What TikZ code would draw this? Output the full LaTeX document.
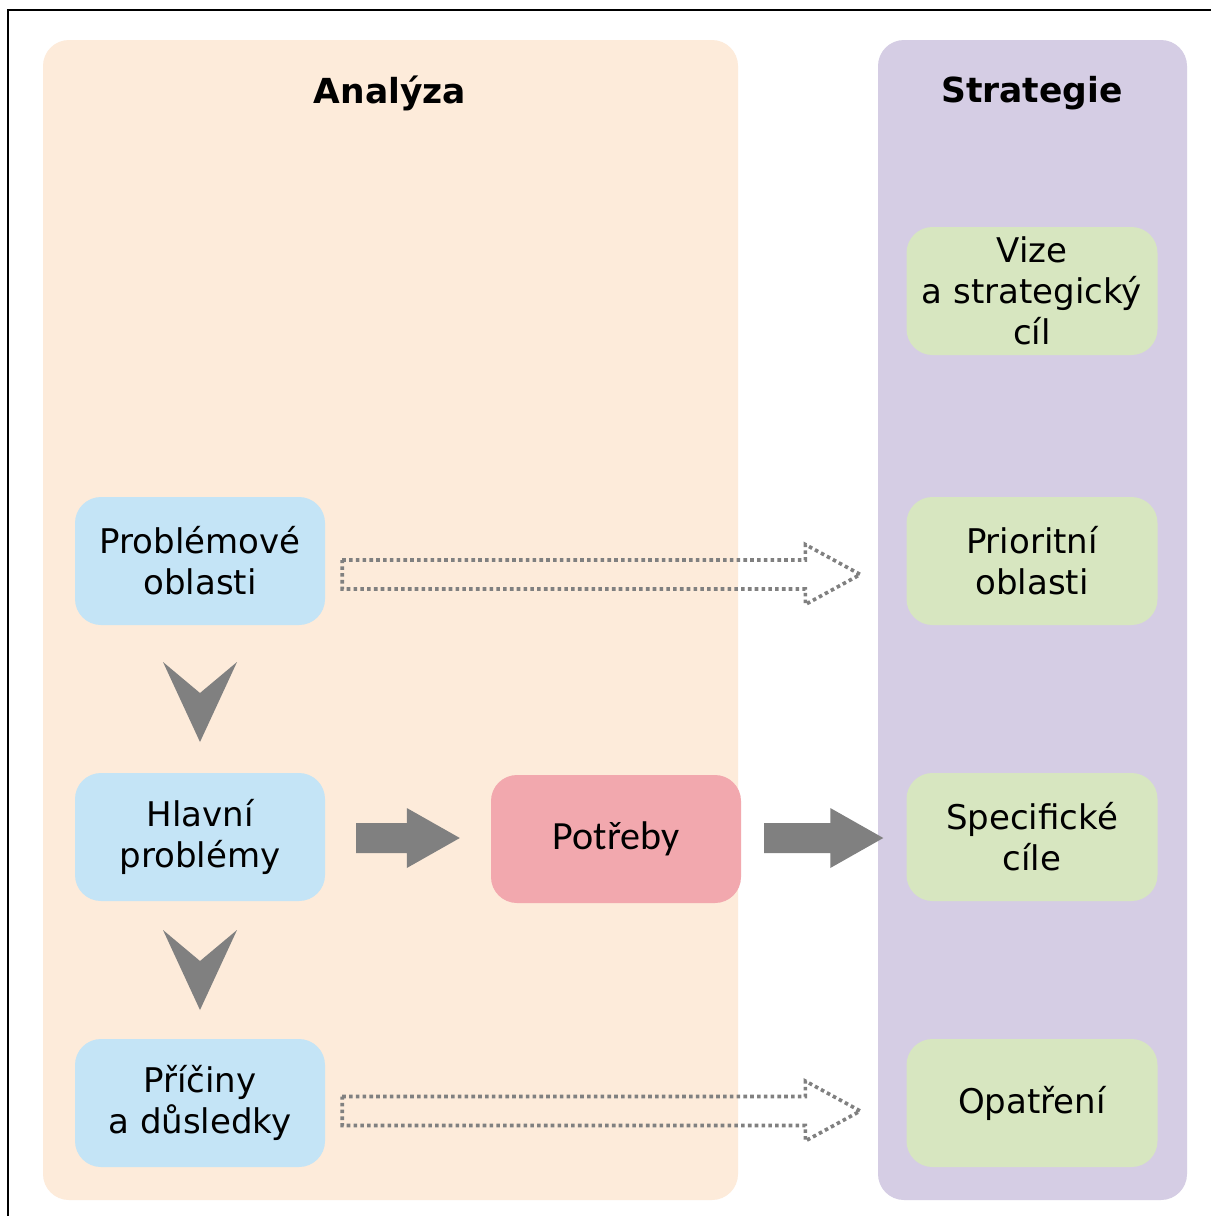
\documentclass[tikz,border=0pt]{standalone}
\usepackage{fontspec}
\setmainfont{DejaVu Sans}
\newfontfamily\calibri{Carlito}
\usetikzlibrary{calc}
\definecolor{peach}{RGB}{253,235,218}
\definecolor{lav}{RGB}{213,205,228}
\definecolor{bluebox}{RGB}{196,228,246}
\definecolor{greenbox}{RGB}{215,230,192}
\definecolor{pinkbox}{RGB}{242,168,174}
\definecolor{arrgray}{RGB}{128,128,128}
\tikzset{
  panel/.style={fill=#1, draw=none, rounded corners=26pt},
  box/.style={fill=#1, draw=none, rounded corners=26pt, minimum width=250pt, minimum height=128pt,
     align=center, inner sep=0pt, font=\fontsize{34}{41}\selectfont},
  title/.style={font=\fontsize{34.5}{40}\selectfont\bfseries},
  dotarrow/.style={draw=arrgray, line width=3.6pt, dash pattern=on 3.6pt off 3.2pt},
  solidarrow/.style={fill=arrgray, draw=none}
}
\begin{document}
\begin{tikzpicture}[x=1pt,y=-1pt]
\useasboundingbox (0,0) rectangle (1211,1216);
\fill[white] (0,0) rectangle (1211,1216);
\draw[line width=2pt] (8,1216) -- (8,10) -- (1211,10);
% panels
\fill[panel=peach] (43,40) rectangle (738,1200);
\fill[panel=lav] (878,40) rectangle (1187,1200);
\node[title] (ta) at (390,93) {Analýza};
\node[title] (ts) at (1032,93) {Strategie};
% boxes
\node[box=bluebox] (pa) at (200,561) {Problémové\\oblasti};
\node[box=bluebox] (hp) at (200,837) {Hlavní\\problémy};
\node[box=bluebox] (pd) at (200,1103) {Příčiny\\a důsledky};
\node[box=pinkbox, font=\calibri\fontsize{40}{48}\selectfont] (pot) at (616,839) {Potřeby};
\node[box=greenbox, minimum width=251pt] (vize) at (1032,291) {Vize\\a strategický\\cíl};
\node[box=greenbox, minimum width=251pt] (prio) at (1032,561) {Prioritní\\oblasti};
\node[box=greenbox, minimum width=251pt] (spec) at (1032,837) {Specifické\\cíle};
\node[box=greenbox, minimum width=251pt] (opat) at (1032,1103) {Opatření};
% chevrons
\coordinate (m1) at ($(pa.south)!0.5!(hp.north)$);
\fill[solidarrow] ($(m1)+(-37,-37)$) -- ($(m1)+(0,-6)$) -- ($(m1)+(37,-37)$) -- ($(m1)+(0,43)$) -- cycle;
\coordinate (m2) at ($(hp.south)!0.5!(pd.north)$);
\fill[solidarrow] ($(m2)+(-37,-40)$) -- ($(m2)+(0,-9)$) -- ($(m2)+(37,-40)$) -- ($(m2)+(0,40)$) -- cycle;
% solid arrows
\coordinate (a1) at ($(hp.east)+(31,1)$);
\coordinate (b1) at ($(pot.west)+(-31,-1)$);
\fill[solidarrow] ($(a1)+(0,-15)$) -- ($(b1)+(-53,-15)$) -- ($(b1)+(-53,-30)$) -- (b1)
   -- ($(b1)+(-53,30)$) -- ($(b1)+(-53,15)$) -- ($(a1)+(0,15)$) -- cycle;
\coordinate (a2) at ($(pot.east)+(23,-1)$);
\coordinate (b2) at ($(spec.west)+(-23,1)$);
\fill[solidarrow] ($(a2)+(0,-15)$) -- ($(b2)+(-53,-15)$) -- ($(b2)+(-53,-30)$) -- (b2)
   -- ($(b2)+(-53,30)$) -- ($(b2)+(-53,15)$) -- ($(a2)+(0,15)$) -- cycle;
% dotted arrows
\coordinate (c1) at ($(pa.east)+(17,13.5)$);
\coordinate (d1) at ($(prio.west)+(-46,13.5)$);
\draw[dotarrow] ($(c1)+(0,-14.5)$) -- ($(d1)+(-55,-14.5)$) -- ($(d1)+(-55,-30)$) -- (d1)
   -- ($(d1)+(-55,30)$) -- ($(d1)+(-55,14.5)$) -- ($(c1)+(0,14.5)$) -- cycle;
\coordinate (c2) at ($(pd.east)+(17,8)$);
\coordinate (d2) at ($(opat.west)+(-46,8)$);
\draw[dotarrow] ($(c2)+(0,-14.5)$) -- ($(d2)+(-55,-14.5)$) -- ($(d2)+(-55,-30)$) -- (d2)
   -- ($(d2)+(-55,30)$) -- ($(d2)+(-55,14.5)$) -- ($(c2)+(0,14.5)$) -- cycle;
\end{tikzpicture}
\end{document}
